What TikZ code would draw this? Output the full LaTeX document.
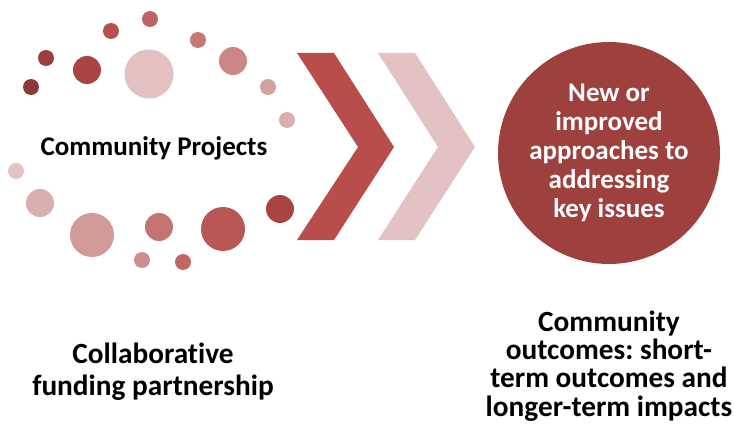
\documentclass[tikz,border=0pt]{standalone}
\usepackage{fontspec}
\setmainfont{Carlito}[Ligatures=NoCommon]
\frenchspacing
\usetikzlibrary{positioning}
\definecolor{darkred}{RGB}{158,64,62}
\definecolor{midred}{RGB}{184,77,75}
\definecolor{palered}{RGB}{227,194,195}
\tikzset{
  bigtext/.style={font=\bfseries\fontsize{27}{29}\selectfont, align=center, inner sep=0pt},
  captext/.style={bigtext, font=\bfseries\fontsize{29.3}{28.4}\selectfont},
}

\begin{document}
\begin{tikzpicture}[x=1pt,y=-1pt]
\useasboundingbox (0,0) rectangle (734,433);

% dots round the projects
\foreach \px/\py/\r/\c in {31/87/8/8B3A3A, 46/58/8/9E3D3D, 87/70/14/A84442,
    111/31/8/B5504E, 150/19/8/BE6462, 149/74/24.5/E3C1C1, 198/40/8/C67876,
    233/61/14/CB8786, 268/87/8/D4A09F, 287/120/8/DAB0AF, 16/171/8/E5C3C3,
    40/203/14/D9AFAE, 92/235/22/D29A99, 142/260/8/CC8E8D, 159/227/14/C37371,
    183/262/8/C06664, 223/229/22/B85755, 280/209/14/A84442} {
  \definecolor{dotcol}{HTML}{\c}
  \fill[dotcol] (\px,\py) circle (\r pt);
}
\node[bigtext, anchor=base] (projects) at (154,156) {Community Projects};

% chevrons
\fill[midred] (297,53) -- (334,53) -- (394,147) -- (334,240) -- (297,240) -- (358,147) -- cycle;
\fill[palered] (378,53) -- (415,53) -- (475,147) -- (415,240) -- (378,240) -- (438,147) -- cycle;

\node[circle, fill=darkred, minimum size=222pt, bigtext, text=white] (approach) at (609,153)
  {New or\\improved\\approaches to\\addressing\\key issues};

\node[captext, font=\bfseries\fontsize{29.3}{32}\selectfont] (funding) at (153,372)
  {Collaborative\\funding partnership};
\node[captext] (outcomes) at (609,366)
  {Community\\outcomes: short-\\term outcomes and\\longer-term impacts};
\end{tikzpicture}
\end{document}
